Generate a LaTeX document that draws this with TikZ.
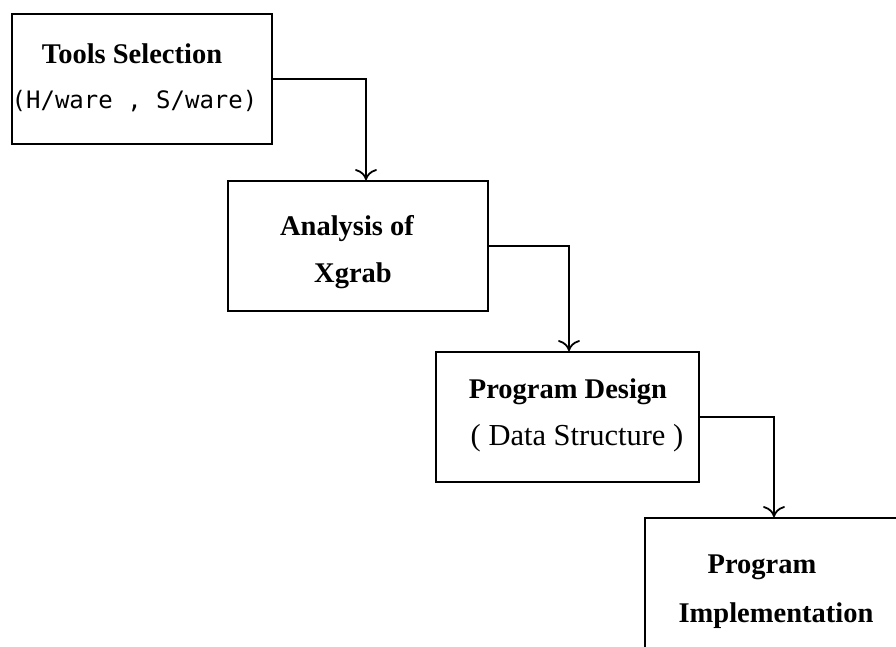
\documentclass[tikz,border=0pt]{standalone}
\usepackage{fontspec}
\setmainfont{Liberation Serif}
\newfontfamily\monofnt{DejaVu Sans Mono}
\usetikzlibrary{arrows.meta}

\tikzset{
  stagebox/.style={draw, line width=1.8pt, rectangle, inner sep=0pt,
    minimum width=#1},
  stagebox/.default=260pt,
  title/.style={anchor=base, inner sep=0pt, font=\fontsize{28.5}{31}\selectfont\bfseries},
  subtitle/.style={anchor=base, inner sep=0pt, font=\fontsize{30.5}{33}\selectfont},
  monotitle/.style={anchor=base, inner sep=0pt, font=\fontsize{24}{27}\selectfont\monofnt},
  flow/.style={line width=1.8pt,
    -{Computer Modern Rightarrow[length=11pt,width=22pt]}}
}

\begin{document}
\begin{tikzpicture}[x=1pt,y=-1pt]
  \useasboundingbox (0,0) rectangle (896,646);
  \clip (0,0) rectangle (896,646);

  % stage boxes
  \node[stagebox, minimum height=130pt] (b1) at (142,79) {};
  \node[stagebox, minimum height=130pt] (b2) at (358,246) {};
  \node[stagebox=263pt, minimum height=130pt] (b3) at (567.5,417) {};
  \node[stagebox=258pt, minimum height=160pt] (b4) at (774,598) {};

  % box texts
  \node[title] (t1) at (132,63) {Tools Selection};
  \node[monotitle] (s1) at (134.5,108) {(H/ware , S/ware)};
  \node[title] (t2) at (347,235) {Analysis of};
  \node[title] (t2b) at (353,282) {Xgrab};
  \node[title] (t3) at (568,398) {Program Design};
  \node[subtitle] (s3) at (577,445) {( Data Structure )};
  \node[title] (t4) at (762,573) {Program};
  \node[title] (t4b) at (776,622) {Implementation};

  % stage-to-stage connectors
  \draw[flow] (b1.east) -| ([xshift=8pt]b2.north);
  \draw[flow] (b2.east) -| ([xshift=1.5pt]b3.north);
  \draw[flow] (b3.east) -| (b4.north);
\end{tikzpicture}
\end{document}
